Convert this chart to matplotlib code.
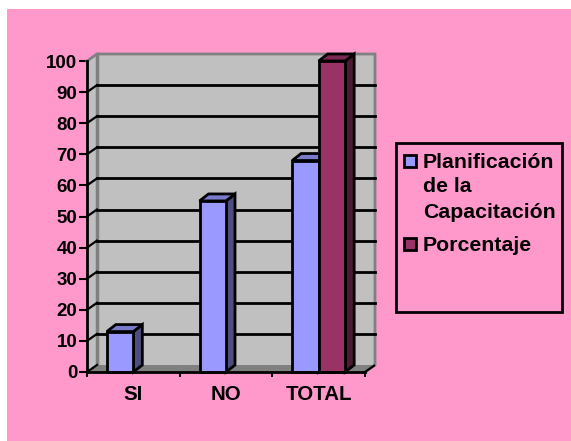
import matplotlib
matplotlib.use('Agg')
import matplotlib.pyplot as plt
from matplotlib.patches import Rectangle

plt.rcParams['font.family'] = ['Liberation Sans', 'DejaVu Sans']

categories = ['SI', 'NO', 'TOTAL']
planificacion = [13, 55, 68]
porcentaje = [None, None, 100]
y_ticks = list(range(0, 101, 10))
legend_lines = ['Planificación', 'de la', 'Capacitación', 'Porcentaje']

PINK = '#FF99CC'
WALL = '#C0C0C0'
EDGE = '#808080'
BLUE, BLUE_TOP, BLUE_SIDE = '#9999FF', '#7A7ACC', '#4D4D80'
WINE, WINE_TOP, WINE_SIDE = '#993366', '#7A2952', '#4D1A33'

W, H = 571, 441
fig = plt.figure(figsize=(W / 100, H / 100), dpi=100, facecolor='white')
fig.patches.append(Rectangle((7 / W, 0), 1 - 7 / W, 1 - 9 / H, transform=fig.transFigure,
                             facecolor=PINK, edgecolor='none', zorder=-5))

# axes = front plane of the 3D box
L, R, T, B = 87, 365, 61, 372
ax = fig.add_axes([L / W, 1 - B / H, (R - L) / W, (B - T) / H])
ax.patch.set_visible(False)
ax.set_xlim(0, 3)
ax.set_ylim(0, 100)
for s in ax.spines.values():
    s.set_visible(False)

# depth of the box in data units (about 10 px right, 7 px up)
dx = 10 / ((R - L) / 3)
dy = 7 / ((B - T) / 100)
bar_dx = 9 / ((R - L) / 3)
lw = 2.0

# walls and floor
ax.fill([dx, 3 + dx, 3 + dx, dx], [dy, dy, 100 + dy, 100 + dy], color=WALL, lw=0, clip_on=False, zorder=1)
ax.fill([0, dx, dx, 0], [0, dy, 100 + dy, 100], color=WALL, lw=0, clip_on=False, zorder=1)
ax.fill([0, 3, 3 + dx, dx], [0, 0, dy, dy], color=EDGE, lw=0, clip_on=False, zorder=1)
ax.plot([0, dx, 3 + dx, 3 + dx, 3], [100, 100 + dy, 100 + dy, dy, 0], color=EDGE, lw=lw, clip_on=False,
        zorder=2, solid_joinstyle='miter')
ax.plot([dx, dx], [dy, 100 + dy], color=EDGE, lw=lw + 0.5, clip_on=False, zorder=2)

# gridlines on the back wall, with the slanted bit on the side wall
for v in y_ticks[1:-1]:
    ax.plot([dx, 3 + dx - 0.005], [v + dy, v + dy], color='black', lw=lw, clip_on=False, zorder=3)
for v in y_ticks[:-1]:
    ax.plot([0, dx], [v, v + dy], color='black', lw=lw * 0.8, clip_on=False, zorder=3)

# axis lines and ticks
ax.plot([0, 0], [0, 100], color='black', lw=lw, clip_on=False, zorder=6)
ax.plot([0, 3], [0, 0], color='black', lw=lw, clip_on=False, zorder=6)
ax.plot([3, 3 + dx * 0.9], [0, dy * 0.9], color='black', lw=lw * 0.8, clip_on=False, zorder=3)
ax.set_yticks(y_ticks)
ax.set_xticks([0, 1, 2, 3])
ax.set_xticklabels([])
ax.tick_params(axis='y', length=5.5, width=1.5, color='black', pad=1.5, labelsize=13.5)
ax.tick_params(axis='x', length=3.5, width=1.5, color='black')
for lab in ax.get_yticklabels():
    lab.set_fontweight('bold')
for i, c in enumerate(categories):
    ax.text(i + 0.5, -7.2, c, ha='center', va='center', fontsize=14.8, fontweight='bold')


def bar3d(x0, x1, v, front, top, side):
    ax.fill([x1, x1 + bar_dx, x1 + bar_dx, x1], [0, dy, v + dy, v], facecolor=side, edgecolor='black',
            lw=lw, clip_on=False, zorder=4, joinstyle='miter')
    ax.fill([x0, x0 + bar_dx, x1 + bar_dx, x1], [v, v + dy, v + dy, v], facecolor=top, edgecolor='black',
            lw=lw, clip_on=False, zorder=4, joinstyle='miter')
    ax.bar((x0 + x1) / 2, v, width=x1 - x0, color=front, edgecolor='black', linewidth=lw, clip_on=False, zorder=5)


# clustered: blue sits left of the category centre, wine right of it
bw = 26.5 / ((R - L) / 3)
for i, v in enumerate(planificacion):
    x_mid = i + 0.5
    bar3d(x_mid - bw, x_mid, v, BLUE, BLUE_TOP, BLUE_SIDE)
    if porcentaje[i] is not None:
        bar3d(x_mid, x_mid + bw, porcentaje[i], WINE, WINE_TOP, WINE_SIDE)

# legend box
fig.patches.append(Rectangle((395.5 / W, 1 - 312 / H), 166 / W, 169 / H, transform=fig.transFigure,
                             facecolor=PINK, edgecolor='black', lw=2.0, zorder=5))
for yp, color in [(161, BLUE), (244.5, WINE)]:
    fig.patches.append(Rectangle((403.5 / W, 1 - (yp + 6) / H), 12 / W, 12 / H, transform=fig.transFigure,
                                 facecolor=color, edgecolor='black', lw=2.0, zorder=6))
for baseline, lab in zip([167.5, 192.5, 218, 251], legend_lines):
    fig.text(423 / W, 1 - baseline / H, lab, ha='left', va='baseline', fontsize=15.3, fontweight='bold', zorder=7)

fig.savefig('out.png', dpi=100, facecolor='white')
